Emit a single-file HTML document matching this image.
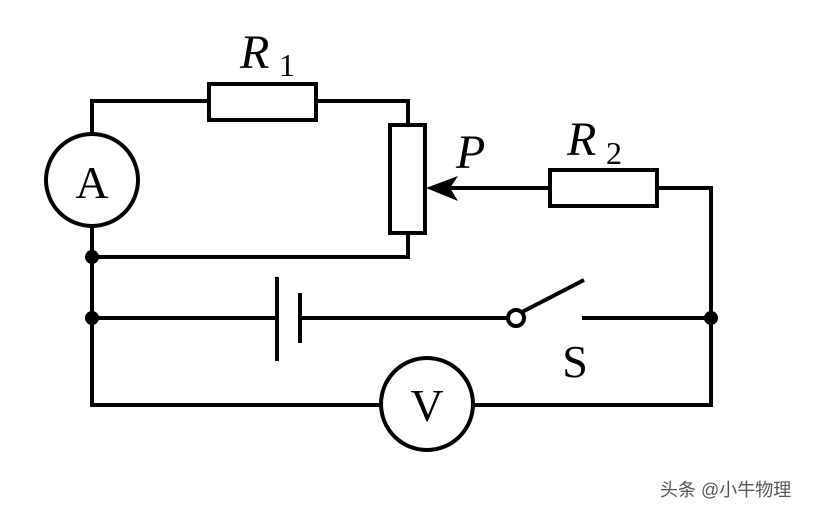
<!DOCTYPE html>
<html><head><meta charset="utf-8"><style>body{margin:0;background:#fff}svg{display:block}</style></head><body>
<svg width="829" height="514" viewBox="0 0 829 514" xmlns="http://www.w3.org/2000/svg">
<g stroke="#000" stroke-width="4" fill="none">
<path d="M92 132 V101 H208 M316 101 H408 V125"/>
<rect x="209" y="84" width="107" height="36" stroke-width="4"/>
<circle cx="92" cy="180" r="46" stroke-width="4"/>
<path d="M92 226 V405 H380 M474 405 H711 V188 H657"/>
<rect x="390" y="125" width="35" height="108"/>
<path d="M408 233 V257 H92"/>
<path d="M92 318 H277 M300 318 H508"/>
<path d="M277 277 V361 M300 293 V343" stroke-width="4"/>
<rect x="550" y="170" width="107" height="36"/>
<path d="M550 188 H440"/>
<circle cx="516" cy="318" r="8"/>
<path d="M522 312 L584 280"/>
<path d="M582 318 H711"/>
<circle cx="427" cy="404" r="46"/>
</g>
<path d="M426 188 L458 176 L450 188 L458 201 Z" fill="#000"/>
<g fill="#000">
<circle cx="92" cy="257" r="7"/><circle cx="92" cy="318" r="7"/><circle cx="711" cy="318" r="7"/>
</g>
<g font-family="Liberation Serif, serif" fill="#000">
<text x="240" y="68" font-size="48" font-style="italic">R</text>
<text x="279" y="76" font-size="32">1</text>
<text x="567" y="155" font-size="48" font-style="italic">R</text>
<text x="606" y="164" font-size="32">2</text>
<text x="456" y="168" font-size="48" font-style="italic">P</text>
<text x="92" y="198" font-size="46" text-anchor="middle">A</text>
<text x="427" y="421" font-size="46" text-anchor="middle">V</text>
<text x="575" y="377" font-size="46" text-anchor="middle">S</text>
</g>
<text x="660" y="496" font-size="18" fill="#555" font-family="Liberation Sans, Noto Sans CJK SC, sans-serif">头条 @小牛物理</text>
</svg>
</body></html>
